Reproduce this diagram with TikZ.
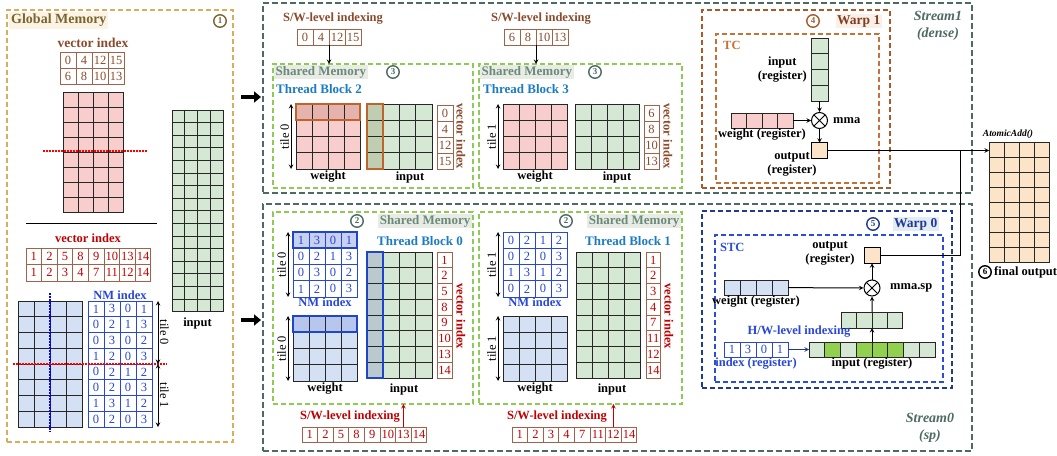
\documentclass[tikz,border=0pt]{standalone}
\usepackage{fontspec}
\setmainfont{Liberation Serif}
\usetikzlibrary{positioning,arrows.meta}

\definecolor{gmline}{HTML}{D9AE5A}
\definecolor{gmtext}{HTML}{7A6530}
\definecolor{gmfill}{HTML}{FBF3E3}
\definecolor{stline}{HTML}{4D6B63}
\definecolor{smline}{HTML}{8DCB54}
\definecolor{smtext}{HTML}{6B8A7C}
\definecolor{smfill}{HTML}{E8ECE4}
\definecolor{tbtext}{HTML}{1B7CC4}
\definecolor{idxbrown}{HTML}{A0634A}
\definecolor{idxtext}{HTML}{8B4A2B}
\definecolor{idxred}{HTML}{C00000}
\definecolor{nmblue}{HTML}{2846D8}
\definecolor{hiblue}{HTML}{1F45C8}
\definecolor{wpink}{HTML}{F8CECC}
\definecolor{wpinkhi}{HTML}{E5B3AE}
\definecolor{igreen}{HTML}{D5E8D4}
\definecolor{igreenhi}{HTML}{BFCDB0}
\definecolor{igreendk}{HTML}{92D050}
\definecolor{sblue}{HTML}{D4E0F4}
\definecolor{sbluehi}{HTML}{B7C6EC}
\definecolor{nmbluehi}{HTML}{C8D0F0}
\definecolor{colhi}{HTML}{B9C9CD}
\definecolor{opeach}{HTML}{FCE4C8}
\definecolor{hiorange}{HTML}{C0622B}
\definecolor{w1line}{HTML}{A95A2A}
\definecolor{w1text}{HTML}{7F3F1F}
\definecolor{w1fill}{HTML}{FBF0E8}
\definecolor{tcline}{HTML}{C87137}
\definecolor{w0line}{HTML}{1F3A8F}
\definecolor{w0fill}{HTML}{E3EBF5}
\definecolor{stcline}{HTML}{2A4ED8}

% empty cells: name, x, y, cols, rows, w, h, style
\newcommand{\cellgrid}[8]{%
  \foreach \ci in {1,...,#4}{\foreach \ri in {1,...,#5}{%
    \draw[#8] ({#2+(\ci-1)*#6},{#3+(\ri-1)*#7}) rectangle ++(#6,#7);}}
  \node[region, minimum width={#4*#6pt}, minimum height={#5*#7pt}] (#1) at (#2,#3) {};}
% cells with values: name, x, y, w, h, style, values
\newcommand{\valrow}[7]{%
  \foreach \val [count=\kk] in {#7}{%
    \node[#6, anchor=north west, minimum width=#4pt, minimum height=#5pt] (#1-\kk) at ({#2+(\kk-1)*#4},#3) {\val};}}
\newcommand{\valcol}[7]{%
  \foreach \val [count=\kk] in {#7}{%
    \node[#6, anchor=north west, minimum width=#4pt, minimum height=#5pt] (#1-\kk) at (#2,{#3+(\kk-1)*#5}) {\val};}}

\begin{document}
\begin{tikzpicture}[x=1pt, y=-1pt, >=stealth,
    font=\fontsize{12.5}{14}\selectfont,
    region/.style={inner sep=0pt, outer sep=0pt, anchor=north west},
    lbl/.style={font=\fontsize{12.5}{14}\selectfont\bfseries, inner sep=1pt},
    title/.style={font=\fontsize{14}{16}\selectfont\bfseries, inner sep=2pt},
    smtitle/.style={font=\fontsize{13}{15}\selectfont\bfseries, text=smtext, fill=smfill, inner sep=1.5pt},
    tbtitle/.style={font=\fontsize{13}{15}\selectfont\bfseries, text=tbtext, inner sep=1pt},
    strlbl/.style={font=\fontsize{14}{17}\selectfont\bfseries\itshape, text=stline, align=center},
    stepnum/.style={circle, draw, line width=1.4pt, minimum size=12.5pt, inner sep=0pt, font=\fontsize{9}{9}\selectfont\bfseries},
    cell/.style={draw, line width=0.8pt, inner sep=0pt, outer sep=0pt},
    gridc/.style={draw=black!85, line width=1pt},
    gmbox/.style={draw=gmline, line width=1.2pt, dash pattern=on 5pt off 3pt},
    stbox/.style={draw=stline, line width=1.2pt, dash pattern=on 6pt off 3pt},
    smbox/.style={draw=smline, line width=1.1pt, dash pattern=on 5pt off 3pt},
    w1box/.style={draw=w1line, line width=1.3pt, dash pattern=on 5pt off 3pt},
    tcbox/.style={draw=tcline, line width=1.2pt, dash pattern=on 5pt off 3pt},
    w0box/.style={draw=w0line, line width=1.3pt, dash pattern=on 5pt off 3pt},
    stcbox/.style={draw=stcline, line width=1.2pt, dash pattern=on 5pt off 3pt},
    hiorg/.style={draw=hiorange, line width=1.8pt},
    hiblu/.style={draw=hiblue, line width=1.8pt},
    reddot/.style={draw=red, line width=1.2pt, dash pattern=on 1.5pt off 1.5pt},
    bluedot/.style={draw=blue, line width=1.2pt, dash pattern=on 1.5pt off 1.5pt},
    tilearr/.style={<->, line width=1pt},
    tilelbl/.style={midway, anchor=south, inner sep=1.5pt},
    mult/.style={circle, draw, line width=1pt, minimum size=16pt, inner sep=0pt,
      path picture={\draw[line width=1pt] (path picture bounding box.south west) -- (path picture bounding box.north east)
        (path picture bounding box.north west) -- (path picture bounding box.south east);}},
    wire/.style={line width=1pt},
    bigarr/.style={line width=4pt, -{Triangle[length=7pt,width=11pt]}}
  ]
  \useasboundingbox (0,0) rectangle (1057,455);

  % global memory
  \node[region, gmbox, minimum width=226pt, minimum height=432pt] (gm) at (7,10) {};
  \node[title, text=gmtext, fill=gmfill, anchor=north west] (gmt) at (9,12) {Global Memory};
  \node[stepnum, draw=gmtext, text=gmtext] (s1) at (220,21) {1};
  \node[lbl, text=idxtext, font=\fontsize{13.5}{15}\selectfont\bfseries] (gvi) at (93,43) {vector index};
  \valrow{gva}{60}{52}{16}{16}{cell, draw=idxbrown, text=idxtext}{0,4,12,15}
  \valrow{gvb}{60}{68}{16}{16}{cell, draw=idxbrown, text=idxtext}{6,8,10,13}
  \cellgrid{gw}{63}{92}{4}{8}{15}{15}{gridc, fill=wpink}
  \draw[reddot] (43,151) -- (148,151);
  \cellgrid{gin}{172}{110}{4}{16}{12.75}{12.6}{gridc, fill=igreen}
  \node[lbl, below=5pt of gin] (gint) {input};
  \draw[line width=1pt] (26,223) -- (157,223);
  \node[lbl, text=idxred] (gvi2) at (88,238) {vector index};
  \valrow{gsa}{26}{248}{15.6}{16.5}{cell, draw=idxbrown, text=idxred}{1,2,5,8,9,10,13,14}
  \valrow{gsb}{26}{264.5}{15.6}{16.5}{cell, draw=idxbrown, text=idxred}{1,2,3,4,7,11,12,14}
  \cellgrid{gsw}{18}{301}{4}{8}{16}{15.75}{gridc, fill=sblue}
  \draw[bluedot] (50,293) -- (50,432);
  \valrow{gnm1}{88}{301}{16}{15.75}{cell, draw=nmblue, text=nmblue}{1,3,0,1}
  \valrow{gnm2}{88}{316.75}{16}{15.75}{cell, draw=nmblue, text=nmblue}{0,2,1,3}
  \valrow{gnm3}{88}{332.5}{16}{15.75}{cell, draw=nmblue, text=nmblue}{0,3,0,2}
  \valrow{gnm4}{88}{348.25}{16}{15.75}{cell, draw=nmblue, text=nmblue}{1,2,0,3}
  \valrow{gnm5}{88}{364}{16}{15.75}{cell, draw=nmblue, text=nmblue}{0,2,1,2}
  \valrow{gnm6}{88}{379.75}{16}{15.75}{cell, draw=nmblue, text=nmblue}{0,2,0,3}
  \valrow{gnm7}{88}{395.5}{16}{15.75}{cell, draw=nmblue, text=nmblue}{1,3,1,2}
  \valrow{gnm8}{88}{411.25}{16}{15.75}{cell, draw=nmblue, text=nmblue}{0,2,0,3}
  \node[lbl, text=nmblue, anchor=south] (gnmt) at (gnm1-2.north east) {NM index};
  \draw[reddot] (13,364) -- (167,364);
  \draw[tilearr] ([xshift=6pt]gnm1-4.north east) -- node[tilelbl, rotate=-90] {tile 0} ([xshift=6pt]gnm4-4.south east);
  \draw[tilearr] ([xshift=6pt]gnm5-4.north east) -- node[tilelbl, rotate=-90] {tile 1} ([xshift=6pt]gnm8-4.south east);

  % streams
  \node[region, stbox, minimum width=709pt, minimum height=190pt] (st1) at (263,3) {};
  \node[region, stbox, minimum width=709pt, minimum height=247pt] (st0) at (263,204) {};
  \node[strlbl] (st1t) at (938,26) {Stream1\\(dense)};
  \node[strlbl] (st0t) at (930,428) {Stream0\\(sp)};
  \coordinate (ba1) at (241,97);
  \coordinate (ba0) at (241,320);
  \draw[bigarr] (ba1) -- ([xshift=-2pt]ba1 -| st1.west);
  \draw[bigarr] (ba0) -- ([xshift=-2pt]ba0 -| st0.west);

  % thread block 2
  \node[region, smbox, minimum width=200pt, minimum height=124pt] (sm2) at (273,64) {};
  \node[smtitle, anchor=west] (sm2t) at (274,72) {Shared Memory};
  \node[stepnum, draw=stline, text=stline] (s3a) at (393,72) {3};
  \node[tbtitle, anchor=west] (tb2) at (275,89) {Thread Block 2};
  \node[lbl, text=idxtext] (sw2t) at (333,19) {S/W-level indexing};
  \valrow{sw2}{297}{29}{16}{16}{cell, draw=idxbrown, text=idxtext}{0,4,12,15}
  \draw[->, wire] (sw2-2.south east) -- (sw2-2.south east |- sm2.north);
  \cellgrid{w2}{296}{104}{4}{4}{16}{16.25}{gridc, fill=wpink}
  \cellgrid{w2h}{296}{104}{4}{1}{16}{16.25}{gridc, fill=wpinkhi}
  \draw[hiorg] (w2h.north west) rectangle (w2h.south east);
  \cellgrid{i2}{367}{104}{4}{4}{16.25}{16.25}{gridc, fill=igreen}
  \cellgrid{i2h}{367}{104}{1}{4}{16.25}{16.25}{gridc, fill=igreenhi}
  \draw[hiorg] (i2h.north west) rectangle (i2h.south east);
  \valcol{vi2}{437}{105}{16}{16}{cell, draw=idxbrown, text=idxtext}{0,4,12,15}
  \node[lbl, text=idxtext, rotate=-90] (vi2t) at (461,136) {vector index};
  \draw[tilearr] ([xshift=-5pt]w2.north west) -- node[tilelbl, rotate=90] {tile 0} ([xshift=-5pt]w2.south west);
  \node[lbl, below=1pt of w2] (w2t) {weight};
  \node[lbl] (i2t) at (410,177) {input};

  % thread block 3
  \node[region, smbox, minimum width=203pt, minimum height=124pt] (sm3) at (479,64) {};
  \node[smtitle, anchor=west] (sm3t) at (480,72) {Shared Memory};
  \node[stepnum, draw=stline, text=stline] (s3b) at (595,72) {3};
  \node[tbtitle, anchor=west] (tb3) at (482,89) {Thread Block 3};
  \node[lbl, text=idxtext] (sw3t) at (541,19) {S/W-level indexing};
  \valrow{sw3}{504}{29}{16}{16}{cell, draw=idxbrown, text=idxtext}{6,8,10,13}
  \draw[->, wire] (sw3-2.south east) -- (sw3-2.south east |- sm3.north);
  \cellgrid{w3}{503}{104}{4}{4}{16}{16.25}{gridc, fill=wpink}
  \cellgrid{i3}{575}{104}{4}{4}{16}{16.25}{gridc, fill=igreen}
  \valcol{vi3}{644}{105}{15}{16}{cell, draw=idxbrown, text=idxtext}{6,8,10,13}
  \node[lbl, text=idxtext, rotate=-90] (vi3t) at (668,136) {vector index};
  \draw[tilearr] ([xshift=-5pt]w3.north west) -- node[tilelbl, rotate=90] {tile 1} ([xshift=-5pt]w3.south west);
  \node[lbl, below=1pt of w3] (w3t) {weight};
  \node[lbl] (i3t) at (617,177) {input};

  % thread block 0
  \node[region, smbox, minimum width=200pt, minimum height=192pt] (smA) at (273,212) {};
  \node[smtitle, anchor=east] (smAt) at (472,221) {Shared Memory};
  \node[stepnum, draw=stline, text=stline] (s2a) at (357,221) {2};
  \node[tbtitle] (tb0) at (420,241) {Thread Block 0};
  \valrow{nma1}{293}{232}{16}{16.25}{cell, draw=nmblue, text=nmblue, fill=nmbluehi}{1,3,0,1}
  \valrow{nma2}{293}{248.25}{16}{16.25}{cell, draw=nmblue, text=nmblue}{0,2,1,3}
  \valrow{nma3}{293}{264.5}{16}{16.25}{cell, draw=nmblue, text=nmblue}{0,3,0,2}
  \valrow{nma4}{293}{280.75}{16}{16.25}{cell, draw=nmblue, text=nmblue}{1,2,0,3}
  \draw[hiblu] (nma1-1.north west) rectangle (nma1-4.south east);
  \node[lbl, text=nmblue, anchor=north] (nmat) at (nma4-2.south east) {NM index};
  \draw[tilearr] ([xshift=-5pt]nma1-1.north west) -- node[tilelbl, rotate=90] {tile 0} ([xshift=-5pt]nma4-1.south west);
  \cellgrid{wa}{293}{316}{4}{4}{16}{16.25}{gridc, fill=sblue}
  \cellgrid{wah}{293}{316}{4}{1}{16}{16.25}{gridc, fill=sbluehi}
  \draw[hiblu] (wah.north west) rectangle (wah.south east);
  \draw[tilearr] ([xshift=-5pt]wa.north west) -- node[tilelbl, rotate=90] {tile 0} ([xshift=-5pt]wa.south west);
  \cellgrid{ia}{367}{252}{4}{8}{16.25}{15.75}{gridc, fill=igreen}
  \cellgrid{iah}{367}{252}{1}{8}{16.25}{15.75}{gridc, fill=colhi}
  \draw[hiblu] (iah.north west) rectangle (iah.south east);
  \valcol{via}{437}{252}{15}{15.75}{cell, draw=idxbrown, text=idxred}{1,2,5,8,9,10,13,14}
  \node[lbl, text=idxred, rotate=-90] (viat) at (461,316) {vector index};
  \node[lbl, below=1pt of wa] (wat) {weight};
  \node[lbl] (iat) at (404,389) {input};
  \node[lbl, text=idxred] (swat) at (350,417) {S/W-level indexing};
  \valrow{swa}{302}{427}{15.6}{15.5}{cell, draw=idxbrown, text=idxred}{1,2,5,8,9,10,13,14}
  \draw[->, wire, idxred] (swa-7.north) -- (swa-7.north |- smA.south);

  % thread block 1
  \node[region, smbox, minimum width=203pt, minimum height=192pt] (smB) at (479,212) {};
  \node[smtitle, anchor=east] (smBt) at (681,221) {Shared Memory};
  \node[stepnum, draw=stline, text=stline] (s2b) at (566,221) {2};
  \node[tbtitle] (tb1) at (628,241) {Thread Block 1};
  \valrow{nmb1}{503}{232}{16}{16.25}{cell, draw=nmblue, text=nmblue}{0,2,1,2}
  \valrow{nmb2}{503}{248.25}{16}{16.25}{cell, draw=nmblue, text=nmblue}{0,2,0,3}
  \valrow{nmb3}{503}{264.5}{16}{16.25}{cell, draw=nmblue, text=nmblue}{1,3,1,2}
  \valrow{nmb4}{503}{280.75}{16}{16.25}{cell, draw=nmblue, text=nmblue}{0,2,0,3}
  \node[lbl, text=nmblue, anchor=north] (nmbt) at (nmb4-2.south east) {NM index};
  \draw[tilearr] ([xshift=-5pt]nmb1-1.north west) -- node[tilelbl, rotate=90] {tile 1} ([xshift=-5pt]nmb4-1.south west);
  \cellgrid{wb}{503}{316}{4}{4}{16}{16.25}{gridc, fill=sblue}
  \draw[tilearr] ([xshift=-5pt]wb.north west) -- node[tilelbl, rotate=90] {tile 1} ([xshift=-5pt]wb.south west);
  \cellgrid{ib}{576}{252}{4}{8}{16}{15.75}{gridc, fill=igreen}
  \valcol{vib}{646}{252}{14.5}{15.75}{cell, draw=idxbrown, text=idxred}{1,2,3,4,7,11,12,14}
  \node[lbl, text=idxred, rotate=-90] (vibt) at (669,316) {vector index};
  \node[lbl, below=1pt of wb] (wbt) {weight};
  \node[lbl] (ibt) at (612,389) {input};
  \node[lbl, text=idxred] (swbt) at (557,417) {S/W-level indexing};
  \valrow{swb}{512}{427}{15.6}{15.5}{cell, draw=idxbrown, text=idxred}{1,2,3,4,7,11,12,14}
  \draw[->, wire, idxred] (swb-7.north) -- (swb-7.north |- smB.south);

  % warp 1 (TC)
  \node[region, w1box, minimum width=188pt, minimum height=178pt] (w1) at (702,10) {};
  \node[lbl, text=w1text, fill=w1fill, anchor=east, font=\fontsize{13.5}{15}\selectfont\bfseries, inner sep=1.5pt] (w1t) at (882,21) {Warp 1};
  \node[stepnum, draw=w1line, text=w1line] (s4) at (813,21) {4};
  \node[region, tcbox, minimum width=163pt, minimum height=149pt] (tc) at (716,34) {};
  \node[lbl, text=tcline, anchor=west] (tct) at (722,45) {TC};
  \cellgrid{tcin}{811}{38}{1}{4}{17}{15.75}{gridc, fill=igreen}
  \node[lbl, align=center, left=3pt of tcin] (tcint) {input\\(register)};
  \node[mult] (mma1) at (819.5,120.5) {};
  \cellgrid{tcw}{731}{113}{4}{1}{15.5}{15}{gridc, fill=wpink}
  \node[lbl, below=0pt of tcw] (tcwt) {weight (register)};
  \node[lbl, right=4pt of mma1] (mma1t) {mma};
  \node[cell, fill=opeach, minimum width=16pt, minimum height=15.5pt] (out1) at (819.5,150.5) {};
  \node[lbl, align=center] (out1t) at (792,164) {output\\(register)};
  \draw[->, wire] (tcin) -- (mma1);
  \draw[->, wire] (tcw) -- (mma1);
  \draw[->, wire] (mma1) -- (out1);

  % final output
  \cellgrid{fo}{989}{142}{4}{8}{15}{15}{gridc, fill=opeach}
  \node[font=\fontsize{9.5}{11}\selectfont\bfseries\itshape] (aat) at (1008,134) {AtomicAdd()};
  \node[stepnum, draw=black, text=black] (s6) at (985,272) {6};
  \node[lbl, anchor=west] (fot) at (993,272) {final output};
  \draw[->, wire] (out1.east) -- (out1.east -| fo.west);

  % warp 0 (STC)
  \node[region, w0box, minimum width=250pt, minimum height=177pt] (w0) at (702,211) {};
  \node[lbl, text=w0line, fill=w0fill, anchor=east, font=\fontsize{13.5}{15}\selectfont\bfseries, inner sep=1.5pt] (w0t) at (939,224) {Warp 0};
  \node[stepnum, draw=w0line, text=w0line] (s5) at (873,224) {5};
  \node[region, stcbox, minimum width=228pt, minimum height=147pt] (stc) at (715,235) {};
  \node[lbl, text=stcline, anchor=west] (stct) at (719,247) {STC};
  \node[cell, fill=opeach, minimum width=16pt, minimum height=15.5pt] (out0) at (872,255.5) {};
  \node[lbl, align=center] (out0t) at (830,253) {output\\(register)};
  \node[mult] (mma0) at (872,288) {};
  \node[lbl, anchor=west] (mma0t) at (889,288) {mma.sp};
  \cellgrid{w0w}{724}{280}{4}{1}{16}{15}{gridc, fill=sblue}
  \node[lbl, below=0pt of w0w] (w0wt) {weight (register)};
  \cellgrid{cmp}{841.2}{312}{4}{1}{15.4}{16}{gridc, fill=igreen}
  \node[lbl, text=nmblue] (hwt) at (799,332) {H/W-level indexing};
  \valrow{hwi}{724}{342}{16}{15}{cell, draw=nmblue, text=nmblue}{1,3,0,1}
  \cellgrid{inr}{809}{342}{8}{1}{15.75}{15}{gridc, fill=igreen}
  \foreach \kk in {1,3,4,5}
    \draw[gridc, fill=igreendk] ({809+\kk*15.75},342) rectangle ++(15.75,15);
  \node[lbl, text=nmblue, below=0pt of hwi-2.south east] (hwit) {index (register)};
  \node[lbl, below=0pt of inr] (inrt) {input (register)};
  \draw[->, wire, draw=w0line] (hwi-4.east) -- (inr.west);
  \draw[->, wire] (inr.north -| cmp.south) -- (cmp.south);
  \draw[->, wire] (cmp) -- (mma0);
  \draw[->, wire] (w0w) -- (mma0);
  \draw[->, wire] (mma0) -- (out0);
  \coordinate (jn) at (960,0 |- out1.east);
  \draw[wire] (out0.east) -| (jn);
\end{tikzpicture}
\end{document}
